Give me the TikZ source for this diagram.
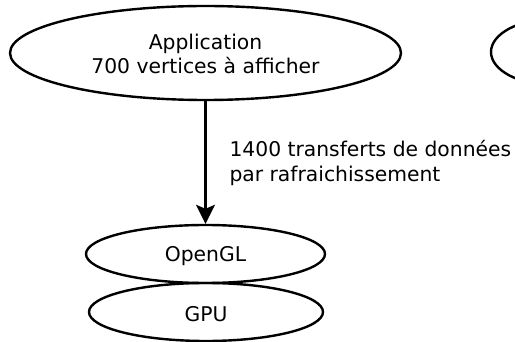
\documentclass[tikz,border=0pt]{standalone}
\usepackage{fontspec}
\setmainfont{DejaVu Sans}
\usetikzlibrary{shapes.geometric,arrows.meta}
\begin{document}
\begin{tikzpicture}[x=1pt,y=-1pt,
  ell/.style={draw=black,line width=2.4pt,ellipse,inner sep=0pt},
  lbl/.style={font=\fontsize{20.3}{24.5}\selectfont,align=center},
  edgestyle/.style={line width=2.4pt,-{Stealth[length=19pt,width=19pt,inset=4pt]}}]
\useasboundingbox (0,0) rectangle (515,342);
\node[ell,minimum width=391pt,minimum height=94pt] (app) at (205.5,53) {};
\node[lbl] (apptxt) at (205.5,54) {Application\\700 vertices à afficher};
\node[ell,minimum width=239pt,minimum height=58pt] (ogl) at (205.5,254) {};
\node[lbl] (ogltxt) at (205.5,256) {OpenGL};
\node[ell,minimum width=234pt,minimum height=58pt] (gpu) at (206,312) {};
\node[lbl] (gputxt) at (206,314) {GPU};
\node[ell,minimum width=124pt,minimum height=66pt] (other) at (553,52) {};
\draw[edgestyle] (app.south) -- (ogl.north);
\node[lbl,anchor=west,align=left] (edgelbl) at (226,163) {1400 transferts de données\\par rafraichissement};
\end{tikzpicture}
\end{document}
